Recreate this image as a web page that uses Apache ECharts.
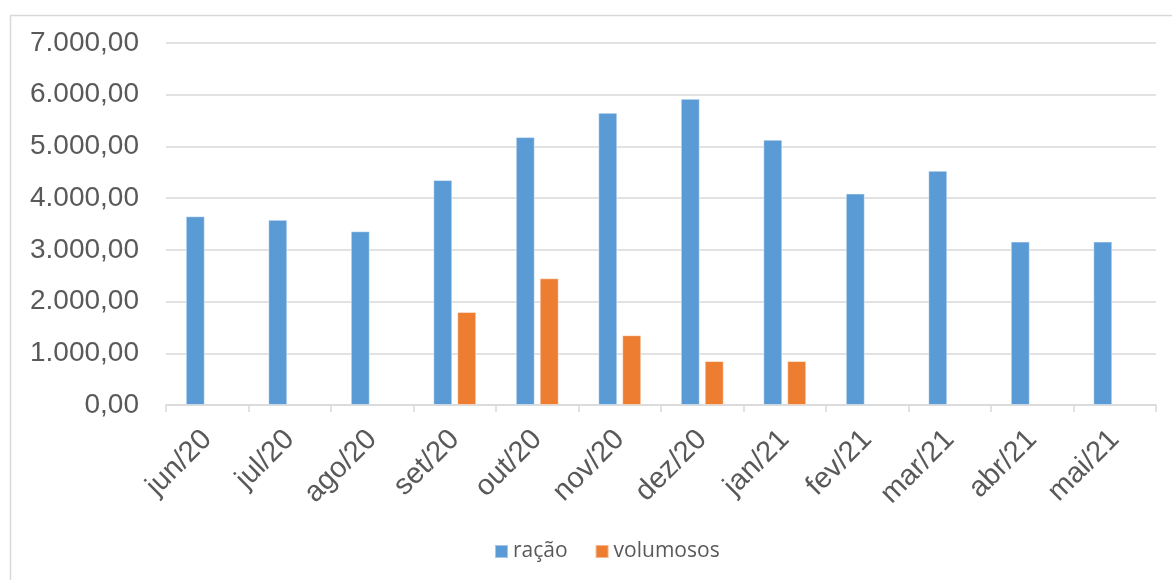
<!doctype html>
<html lang="pt">
<head>
    <meta charset="UTF-8">
    <title>ração e volumosos</title>
    <script type="text/javascript" src="https://cdn.jsdelivr.net/npm/echarts@6/dist/echarts.min.js"></script>
    <style>
        html, body { margin: 0; padding: 0; background: #fff; }
    </style>
</head>
<body>
<div id="main" style="width: 1172px; height: 580px;"></div>
<script type="text/javascript">
    // dados
    var meses = ['jun/20', 'jul/20', 'ago/20', 'set/20', 'out/20', 'nov/20', 'dez/20', 'jan/21', 'fev/21', 'mar/21', 'abr/21', 'mai/21'];
    var racao = [3650, 3580, 3360, 4350, 5180, 5650, 5920, 5130, 4090, 4530, 3160, 3160];
    var volumosos = [null, null, null, 1800, 2450, 1350, 850, 850, null, null, null, null];
    var yTicks = [0, 1000, 2000, 3000, 4000, 5000, 6000, 7000];

    function formatBR(v) {
        var s = Math.round(v).toString().replace(/\B(?=(\d{3})+(?!\d))/g, '.');
        return s + ',00';
    }

    var myChart = echarts.init(document.getElementById('main'));

    option = {
        backgroundColor: '#ffffff',
        animation: false,
        textStyle: { fontFamily: 'Liberation Sans, Arial, sans-serif' },
        graphic: [{
            type: 'rect',
            left: 8, top: 13,
            shape: { width: 1200, height: 620 },
            style: { fill: 'none', stroke: '#d9d9d9', lineWidth: 1.5 },
            silent: true
        }],
        legend: {
            left: 489,
            top: 536,
            itemWidth: 13,
            itemHeight: 13,
            itemGap: 27,
            icon: 'rect',
            textStyle: { color: '#595959', fontSize: 21, fontFamily: 'Open Sans, sans-serif' },
            data: ['ração', 'volumosos']
        },
        grid: {
            left: 166,
            right: 16,
            top: 43,
            bottom: 175,
            containLabel: false
        },
        xAxis: {
            type: 'category',
            data: meses,
            axisLine: { lineStyle: { color: '#d9d9d9', width: 1.5 } },
            axisTick: { show: true, length: 7, lineStyle: { color: '#d9d9d9', width: 1.5 } },
            axisLabel: {
                rotate: 45,
                margin: 30,
                color: '#595959',
                fontSize: 29
            }
        },
        yAxis: {
            type: 'value',
            min: yTicks[0],
            max: yTicks[yTicks.length - 1],
            interval: 1000,
            axisLine: { show: false },
            axisTick: { show: false },
            splitLine: { lineStyle: { color: '#d9d9d9', width: 1.5 } },
            axisLabel: {
                margin: 27,
                color: '#595959',
                fontSize: 28,
                formatter: formatBR
            }
        },
        series: [
            {
                name: 'ração',
                type: 'bar',
                data: racao,
                barWidth: 19,
                barGap: '26%',
                itemStyle: { color: '#5b9bd5', borderColor: 'rgba(255,255,255,0.45)', borderWidth: 1 }
            },
            {
                name: 'volumosos',
                type: 'bar',
                data: volumosos,
                barWidth: 19,
                barGap: '26%',
                itemStyle: { color: '#ed7d31', borderColor: 'rgba(255,255,255,0.45)', borderWidth: 1 }
            }
        ]
    };

    myChart.setOption(option);
</script>
</body>
</html>
